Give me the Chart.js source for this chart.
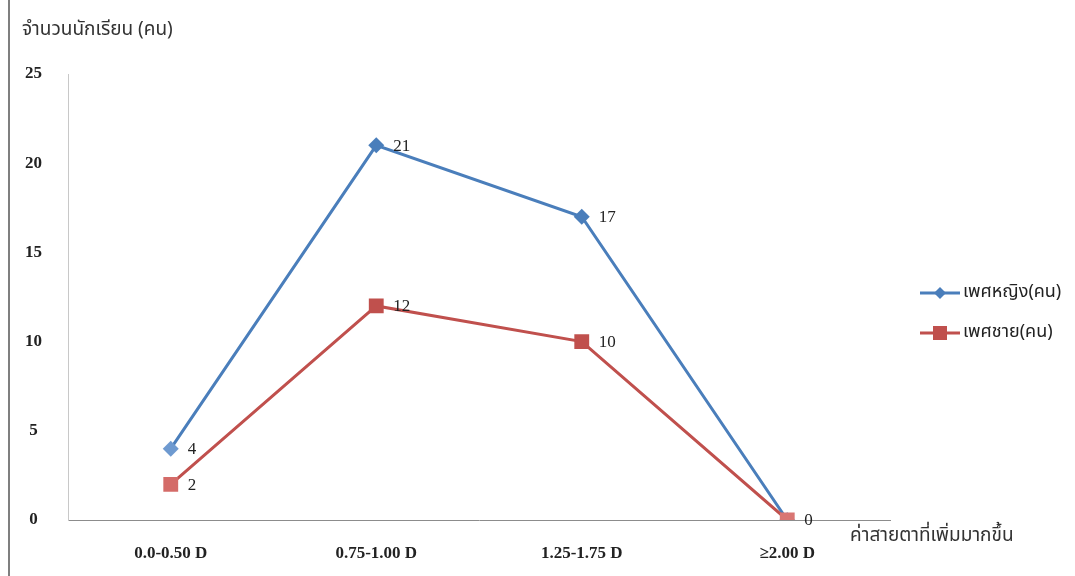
<!DOCTYPE html>
<html>
<head>
<meta charset="utf-8">
<script src="https://cdn.jsdelivr.net/npm/chart.js@4/dist/chart.umd.min.js"></script>
<style>
  html, body { margin: 0; padding: 0; background: #fff; }
  #wrap { position: relative; width: 1075px; height: 576px; }
</style>
</head>
<body>
<div id="wrap"><canvas id="grafico"></canvas></div>
<script>
// Datos del grafico
const categorias = ['0.0-0.50 D', '0.75-1.00 D', '1.25-1.75 D', '\u22652.00 D'];
const mujeres = [4, 21, 17, 0];
const hombres = [2, 12, 10, 0];
const nombreMujeres = 'เพศหญิง(คน)';
const nombreHombres = 'เพศชาย(คน)';
const tituloY = 'จำนวนนักเรียน (คน)';
const tituloX = 'ค่าสายตาที่เพิ่มมากขึ้น';
const ticksY = [0, 5, 10, 15, 20, 25];

const serif = '"Liberation Serif", "Times New Roman", serif';
const thai = '"Noto Sans Thai", "Tahoma", "DejaVu Sans", sans-serif';

// Etiquetas de valores, titulos, leyenda y borde
const extras = {
    id: 'extras',
    afterDatasetsDraw(chart) {
        const ctx = chart.ctx;
        ctx.save();
        ctx.fillStyle = '#222';
        ctx.font = '17px ' + serif;
        ctx.textBaseline = 'middle';
        ctx.textAlign = 'left';
        chart.data.datasets.forEach((ds, i) => {
            chart.getDatasetMeta(i).data.forEach((pt, j) => {
                if (i === 1 && j === 3) return; // el 0 se muestra una vez
                ctx.fillText(String(ds.data[j]), pt.x + 17, pt.y + 1);
            });
        });
        ctx.restore();
    },
    afterDraw(chart) {
        const ctx = chart.ctx;
        const area = chart.chartArea;
        ctx.save();
        // borde izquierdo de la pagina
        ctx.strokeStyle = '#7f7f7f';
        ctx.lineWidth = 2;
        ctx.beginPath();
        ctx.moveTo(9, 0);
        ctx.lineTo(9, 576);
        ctx.stroke();
        // titulos de ejes
        ctx.fillStyle = '#333';
        ctx.font = '19px ' + thai;
        ctx.textBaseline = 'middle';
        ctx.textAlign = 'left';
        ctx.fillText(tituloY, 22, 31);
        ctx.fillText(tituloX, area.right - 40, 537);
        // leyenda
        const items = [
            { ds: chart.data.datasets[0], y: 293 },
            { ds: chart.data.datasets[1], y: 333 }
        ];
        items.forEach(it => {
            ctx.strokeStyle = it.ds.borderColor;
            ctx.lineWidth = 3;
            ctx.beginPath();
            ctx.moveTo(920, it.y);
            ctx.lineTo(960, it.y);
            ctx.stroke();
            ctx.fillStyle = it.ds.legendColor;
            if (it.ds.pointStyle === 'rectRot') {
                ctx.beginPath();
                ctx.moveTo(940, it.y - 6);
                ctx.lineTo(946, it.y);
                ctx.lineTo(940, it.y + 6);
                ctx.lineTo(934, it.y);
                ctx.closePath();
                ctx.fill();
            } else {
                ctx.fillRect(933, it.y - 7, 14, 14);
            }
            ctx.fillStyle = '#222';
            ctx.font = '18px ' + thai;
            ctx.fillText(it.ds.label, 963, it.y);
        });
        ctx.restore();
    }
};

const grafico = new Chart(document.getElementById('grafico'), {
    type: 'line',
    data: {
        labels: categorias,
        datasets: [{
            label: nombreMujeres,
            data: mujeres,
            order: 2,
            borderColor: '#4A7EBB',
            legendColor: '#4A7EBB',
            backgroundColor: ['#6E9AD0', '#4A7EBB', '#4A7EBB', '#7FA7D8'],
            borderWidth: 3,
            pointStyle: 'rectRot',
            pointRadius: 8,
            pointHoverRadius: 8,
            pointBorderWidth: 0,
            tension: 0
        }, {
            label: nombreHombres,
            data: hombres,
            order: 1,
            borderColor: '#C0504D',
            legendColor: '#C0504D',
            backgroundColor: ['#D46B68', '#C0504D', '#C0504D', '#D97673'],
            borderWidth: 3,
            pointStyle: 'rect',
            pointRadius: 10.5,
            pointHoverRadius: 10.5,
            pointBorderWidth: 0,
            tension: 0
        }]
    },
    options: {
        responsive: true,
        maintainAspectRatio: false,
        animation: false,
        layout: { padding: { top: 74, right: 185, left: 0, bottom: 0 } },
        plugins: {
            legend: { display: false },
            tooltip: { enabled: false }
        },
        scales: {
            x: {
                offset: true,
                grid: { display: false, drawTicks: false },
                border: { display: true, color: '#8c8c8c', width: 1 },
                ticks: {
                    color: '#222',
                    font: { family: serif, size: 17, weight: 'bold' },
                    padding: 23,
                    maxRotation: 0
                },
                afterFit: (scale) => { scale.height = 56; }
            },
            y: {
                min: 0,
                max: 25,
                afterBuildTicks: (scale) => { scale.ticks = ticksY.map(v => ({ value: v })); },
                grid: { display: false, drawTicks: false },
                border: { display: true, color: '#c8c8c8', width: 1 },
                ticks: {
                    color: '#222',
                    font: { family: serif, size: 17, weight: 'bold' },
                    crossAlign: 'center',
                    padding: 26
                },
                afterFit: (scale) => { scale.width = 68; }
            }
        }
    },
    plugins: [extras]
});
</script>
</body>
</html>
